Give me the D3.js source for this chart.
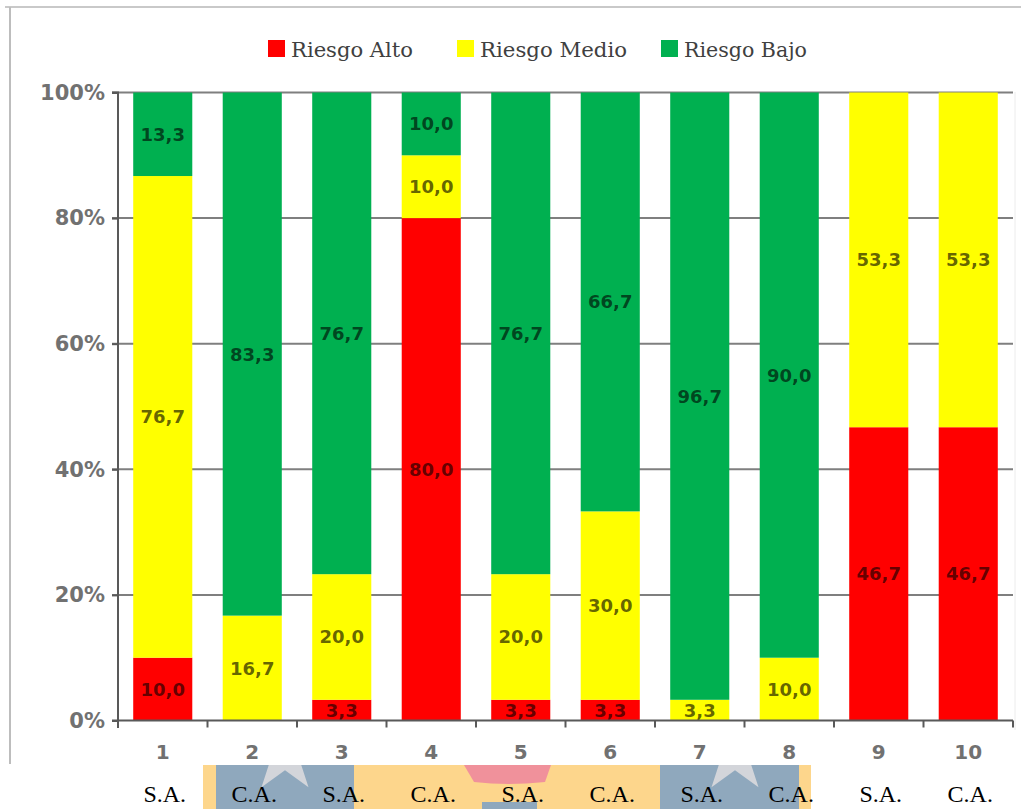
<!DOCTYPE html>
<html><head><meta charset="utf-8">
<script src="https://cdn.jsdelivr.net/npm/d3@7"></script>
<style>html,body{margin:0;padding:0;background:#fff;}svg{display:block;}</style>
</head><body>
<svg id="c" width="1021" height="809"></svg>
<script>
// ---- data ----
const categories = ["1","2","3","4","5","6","7","8","9","10"];
const seriesNames = ["Riesgo Alto","Riesgo Medio","Riesgo Bajo"];
const riesgoAlto  = [10.0, 0,    3.3,  80.0, 3.3,  3.3,  0,    0,    46.7, 46.7];
const riesgoMedio = [76.7, 16.7, 20.0, 10.0, 20.0, 30.0, 3.3,  10.0, 53.3, 53.3];
const riesgoBajo  = [13.3, 83.3, 76.7, 10.0, 76.7, 66.7, 96.7, 90.0, 0,    0];
const yTicks = [0, 20, 40, 60, 80, 100];
const groupLabels = ["S.A.","C.A.","S.A.","C.A.","S.A.","C.A.","S.A.","C.A.","S.A.","C.A."];
const colors = ["#ff0000","#ffff00","#00b050"];

const svg = d3.select("#c");

// ---- bottom decorative strip ----
const deco = svg.append("g");
svg.append("defs").append("clipPath").attr("id","strip")
  .append("rect").attr("x",203).attr("y",765).attr("width",608).attr("height",44);
deco.append("rect").attr("x",203).attr("y",765).attr("width",608).attr("height",44).attr("fill","#fdd68c");
deco.append("rect").attr("x",216).attr("y",765).attr("width",138).attr("height",44).attr("fill","#8fa8bd");
deco.append("rect").attr("x",660).attr("y",765).attr("width",139).attr("height",44).attr("fill","#8fa8bd");
deco.append("path").attr("d","M464,765 L551,765 L545,782 Q508,786 474,782 Z").attr("fill","#f0919b");
deco.append("rect").attr("x",482).attr("y",802).attr("width",55).attr("height",7).attr("fill","#8fa8bd");
function starPath(cx, cy, R){
  const r = R*0.382; let p = [];
  for(let i=0;i<10;i++){
    const a = (-90 + i*36)*Math.PI/180, rr = i%2===0?R:r;
    p.push([cx+rr*Math.cos(a), cy+rr*Math.sin(a)]);
  }
  return "M"+p.map(d=>d.join(",")).join("L")+"Z";
}
const sg = deco.append("g").attr("clip-path","url(#strip)");
sg.append("path").attr("d",starPath(285,755,40)).attr("fill","#d3d5da");
sg.append("path").attr("d",starPath(735,755,40)).attr("fill","#d3d5da");

// ---- frame ----
svg.append("line").attr("x1",5).attr("x2",1021).attr("y1",7).attr("y2",7).attr("stroke","#c9c9c9").attr("stroke-width",2);
svg.append("line").attr("x1",10).attr("x2",10).attr("y1",7).attr("y2",764).attr("stroke","#bdbdbd").attr("stroke-width",2);
svg.append("line").attr("x1",1015).attr("x2",1015).attr("y1",92).attr("y2",730).attr("stroke","#ececec").attr("stroke-width",1);

// ---- scales ----
const x = d3.scaleBand().domain(categories).range([118,1013]).paddingInner(0.34).paddingOuter(0.17);
const y = d3.scaleLinear().domain([0,100]).range([720.5,92.5]);

// gridlines
svg.append("g").selectAll("line").data(yTicks.filter(d=>d>0)).join("line")
  .attr("x1",112).attr("x2",1013).attr("y1",d=>y(d)).attr("y2",d=>y(d))
  .attr("stroke","#7f7f7f").attr("stroke-width",2);

// stacked bars
const rows = categories.map((c,i)=>({cat:c, "Riesgo Alto":riesgoAlto[i], "Riesgo Medio":riesgoMedio[i], "Riesgo Bajo":riesgoBajo[i]}));
const stack = d3.stack().keys(seriesNames)(rows);
const layers = svg.append("g").selectAll("g").data(stack).join("g").attr("fill",(d,i)=>colors[i]);
layers.selectAll("rect").data(d=>d).join("rect")
  .attr("x",d=>x(d.data.cat)).attr("width",x.bandwidth())
  .attr("y",d=>y(d[1])).attr("height",d=>y(d[0])-y(d[1]));

// value labels
const lab = svg.append("g").attr("font-family","DejaVu Sans").attr("font-size",18).attr("font-weight","bold")
  .attr("text-anchor","middle").attr("fill","#000").attr("fill-opacity",0.62);
stack.forEach(layer=>{
  layer.forEach(d=>{
    const v = d[1]-d[0];
    if(v<=0.001) return;
    lab.append("text").attr("x",x(d.data.cat)+x.bandwidth()/2)
      .attr("y",y((d[0]+d[1])/2)).attr("dy","0.36em")
      .text(v.toFixed(1).replace(".",","));
  });
});

// y axis
const yAxis = svg.append("g").attr("transform","translate(118,0)")
  .call(d3.axisLeft(y).tickValues(yTicks).tickSize(6).tickPadding(7).tickFormat(d=>d+"%"));
yAxis.select(".domain").attr("stroke","#595959").attr("stroke-width",2).attr("d","M-6,92.5H0V728");
yAxis.selectAll(".tick line").attr("stroke","#595959").attr("stroke-width",2);
yAxis.selectAll("text").attr("font-family","DejaVu Sans").attr("font-size",21).attr("fill","#595959")
  .attr("font-weight","bold").attr("opacity",0.85);

// x axis line + boundary ticks
const xa = svg.append("g");
xa.append("line").attr("x1",112).attr("x2",1013).attr("y1",y(0)).attr("y2",y(0)).attr("stroke","#595959").attr("stroke-width",2);
xa.selectAll(".bt").data(d3.range(categories.length+1)).join("line").attr("class","bt")
  .attr("x1",d=>x.range()[0]+d*x.step()).attr("x2",d=>x.range()[0]+d*x.step())
  .attr("y1",y(0)).attr("y2",y(0)+7).attr("stroke","#595959").attr("stroke-width",2);
xa.selectAll(".xl").data(categories).join("text").attr("class","xl")
  .attr("x",d=>x(d)+x.bandwidth()/2).attr("y",759).attr("text-anchor","middle")
  .attr("font-family","DejaVu Sans").attr("font-size",20).attr("font-weight","bold")
  .attr("fill","#595959").attr("opacity",0.85).text(d=>d);

// legend
const legendPos = [268, 457, 661];
const legendW = [128, 153, 129];
const lg = svg.append("g");
seriesNames.forEach((s,i)=>{
  lg.append("rect").attr("x",legendPos[i]).attr("y",40).attr("width",17).attr("height",17).attr("fill",colors[i]);
  lg.append("text").attr("x",legendPos[i]+23).attr("y",57).attr("font-family","DejaVu Serif")
    .attr("font-size",20).attr("fill","#404040").attr("textLength",legendW[i]-6)
    .attr("lengthAdjust","spacingAndGlyphs").text(s);
});

// group labels under chart
svg.append("g").selectAll("text").data(groupLabels).join("text")
  .attr("x",(d,i)=>x(categories[i])+x.bandwidth()/2+2).attr("y",802)
  .attr("text-anchor","middle").attr("font-family","Liberation Serif").attr("font-size",24)
  .attr("fill","#000").text(d=>d);
</script>
</body></html>
